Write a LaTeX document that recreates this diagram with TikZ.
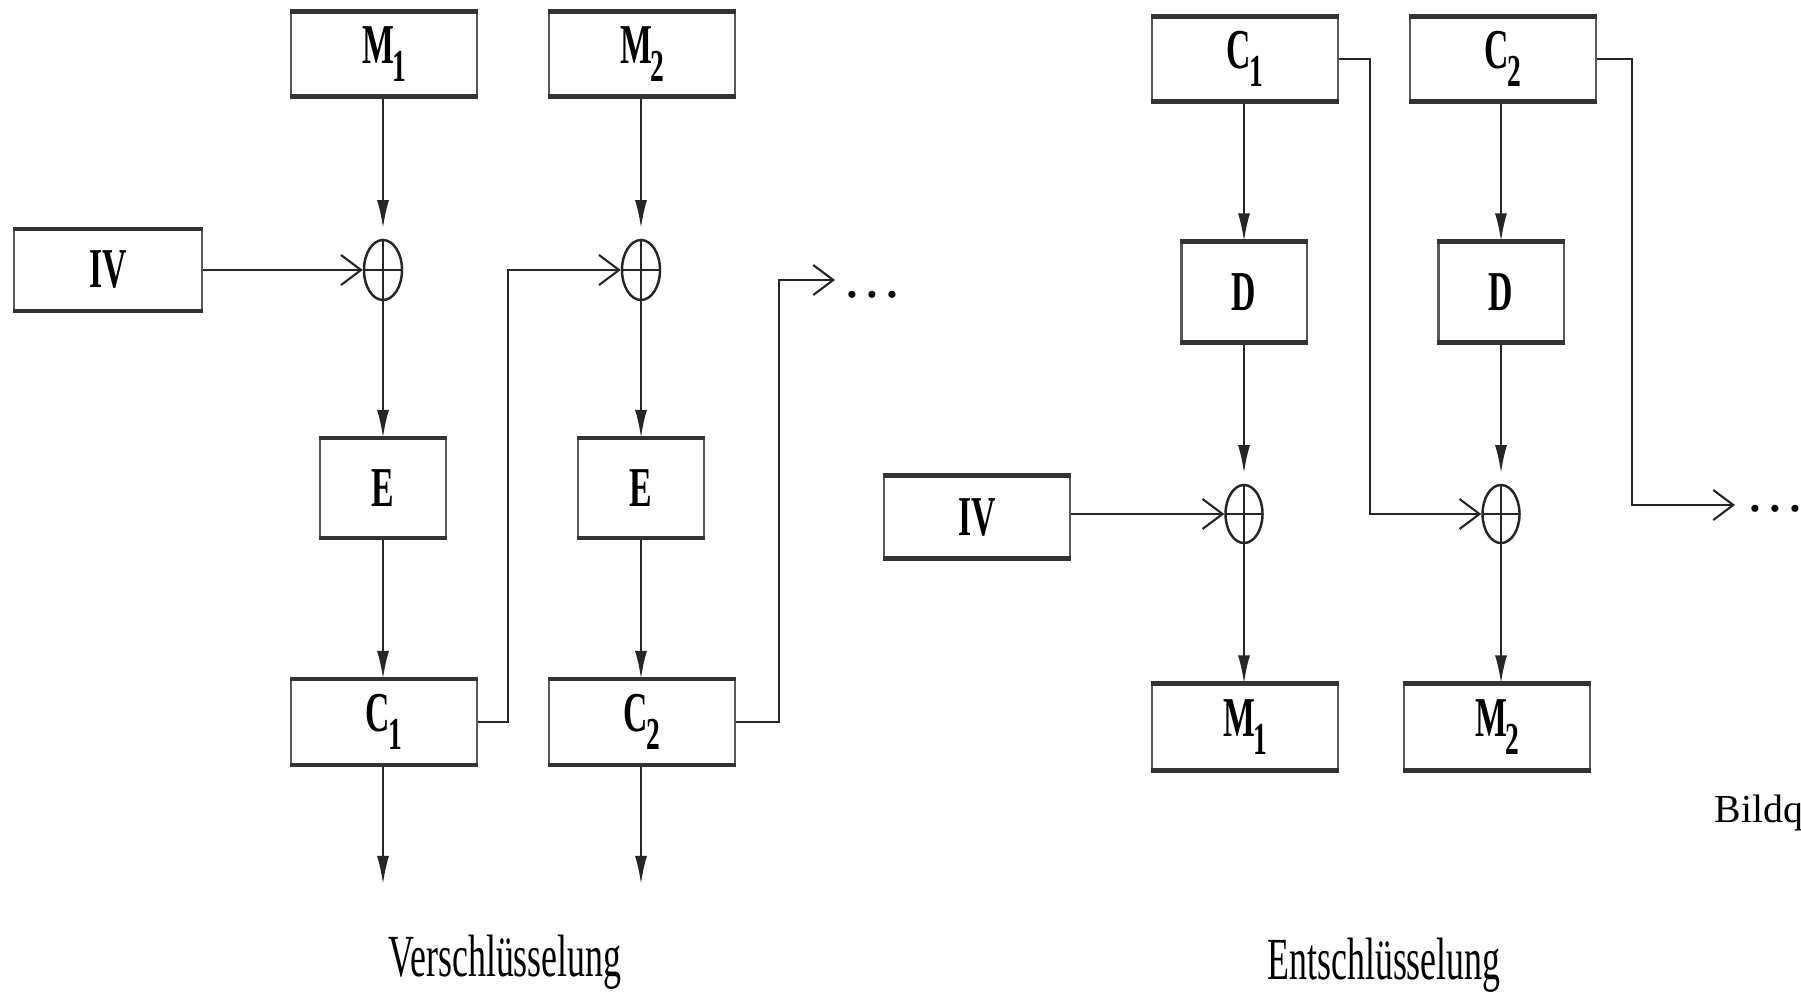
\documentclass[tikz,border=0pt]{standalone}
\usepackage{fontspec}
\setmainfont{Liberation Serif}
\newfontfamily\plain{Liberation Serif}
\newfontfamily\cond[FakeStretch=0.6]{Liberation Serif}
\usetikzlibrary{shapes.geometric,arrows.meta,calc}
\newcommand\sbs[1]{\kern-0.03em\raisebox{-0.32em}{\fontsize{13}{13}\selectfont #1}}
\begin{document}
\begin{tikzpicture}[x=0.01cm,y=-0.01cm,
  blk/.style={draw=black!65, line width=0.6pt, rectangle, inner sep=0pt,
    font=\cond\bfseries\fontsize{16}{16}\selectfont},
  wide/.style={blk, minimum width=1.86cm, minimum height=0.83cm},
  cell/.style={blk, minimum width=1.26cm, minimum height=0.98cm},
  xor/.style={ellipse, draw=black!85, line width=0.7pt, minimum width=0.38cm,
    minimum height=0.6cm, inner sep=0pt,
    path picture={\draw[line width=0.6pt,black!85]
      (path picture bounding box.north) -- (path picture bounding box.south)
      (path picture bounding box.west) -- (path picture bounding box.east);}},
  conn/.style={draw=black!85, line width=0.6pt},
  va/.style={conn, -{Latex[length=0.28cm,width=0.12cm]}},
  ha/.style={conn, -{Straight Barb[length=0.2cm,width=0.3cm]}},
  lab/.style={font=\cond\fontsize{17}{17}\selectfont, inner sep=0pt},
  dotsty/.style={font=\plain\fontsize{17}{17}\selectfont, inner sep=0pt}
]
\useasboundingbox (0,0) rectangle (1801,994);

% ---------- Verschluesselung ----------
\node[wide] (M1e) at (384,54) {M\sbs{1}};
\node[wide] (M2e) at (642,54) {M\sbs{2}};
\node[wide, minimum width=1.88cm, minimum height=0.80cm] (IVe) at (108,270) {IV};
\node[xor] (X1) at (383,270) {};
\node[xor] (X2) at (641,270) {};
\node[cell] (E1) at (383,488) {E};
\node[cell] (E2) at (641,488) {E};
\node[wide, minimum height=0.84cm] (C1e) at (384,722) {C\sbs{1}};
\node[wide, minimum height=0.84cm] (C2e) at (642,722) {C\sbs{2}};
\coordinate (o1) at (383,884);
\coordinate (o2) at (641,884);
\coordinate (d1) at (835,280);
\node[dotsty, anchor=base] (dots1) at (872,297) {\dots};

\draw[va, shorten >=3pt] (M1e.south -| X1) -- (X1.north);
\draw[va, shorten >=3pt] (M2e.south -| X2) -- (X2.north);
\draw[va] (X1.south) -- (E1.north);
\draw[va] (X2.south) -- (E2.north);
\draw[va] (E1.south) -- (C1e.north -| E1);
\draw[va] (E2.south) -- (C2e.north -| E2);
\draw[va] (C1e.south -| o1) -- (o1);
\draw[va] (C2e.south -| o2) -- (o2);
\draw[ha] (IVe.east |- X1) -- (X1.west);
\draw[ha] (C1e.east) -- ++(30,0) |- (X2.west);
\draw[ha] ($(C2e.east)+(0,-0.04)$) -- ++(43,0) |- (d1);

% ---------- Entschluesselung ----------
\node[wide] (C1d) at (1245,59) {C\sbs{1}};
\node[wide] (C2d) at (1503,59) {C\sbs{2}};
\node[cell, minimum width=1.25cm, minimum height=0.99cm] (D1) at (1244,292) {D};
\node[cell, minimum width=1.25cm, minimum height=0.99cm] (D2) at (1501,292) {D};
\node[xor, minimum width=0.37cm, minimum height=0.58cm] (X3) at (1244,514) {};
\node[xor, minimum width=0.37cm, minimum height=0.58cm] (X4) at (1501,514) {};
\node[wide, minimum height=0.81cm] (IVd) at (977,517) {IV};
\node[wide, minimum height=0.85cm] (M1d) at (1245,727) {M\sbs{1}};
\node[wide, minimum height=0.85cm] (M2d) at (1497,727) {M\sbs{2}};
\coordinate (d2) at (1735,505);
\node[dotsty, anchor=base] (dots2) at (1775,511) {\dots};

\draw[va] (C1d.south -| D1) -- (D1.north);
\draw[va] (C2d.south -| D2) -- (D2.north);
\draw[va, shorten >=3pt] (D1.south) -- (X3.north);
\draw[va, shorten >=3pt] (D2.south) -- (X4.north);
\draw[va] (X3.south) -- (M1d.north -| X3);
\draw[va] (X4.south) -- (M2d.north -| X4);
\draw[ha] (IVd.east |- X3) -- (X3.west);
\draw[ha] ($(C1d.east)+(0,-0.06)$) -- ++(31,0) |- (X4.west);
\draw[ha] ($(C2d.east)+(0,0.03)$) -- ++(35,0) |- (d2);

% thicker top and bottom edges of the boxes
\foreach \n in {M1e,M2e,IVe,E1,E2,C1e,C2e,C1d,C2d,D1,D2,IVd,M1d,M2d}
  \draw[line width=1.3pt, black!80] (\n.north west) -- (\n.north east)
    (\n.south west) -- (\n.south east);

% ---------- texts ----------
\node[lab, anchor=base] (enc) at (505,976) {Verschlüsselung};
\node[lab, anchor=base] (dec) at (1384,979) {Entschlüsselung};
\node[anchor=base west, inner sep=0pt, font=\plain\fontsize{11.3}{12}\selectfont] (src) at (1714,822) {Bildq};
\end{tikzpicture}
\end{document}
